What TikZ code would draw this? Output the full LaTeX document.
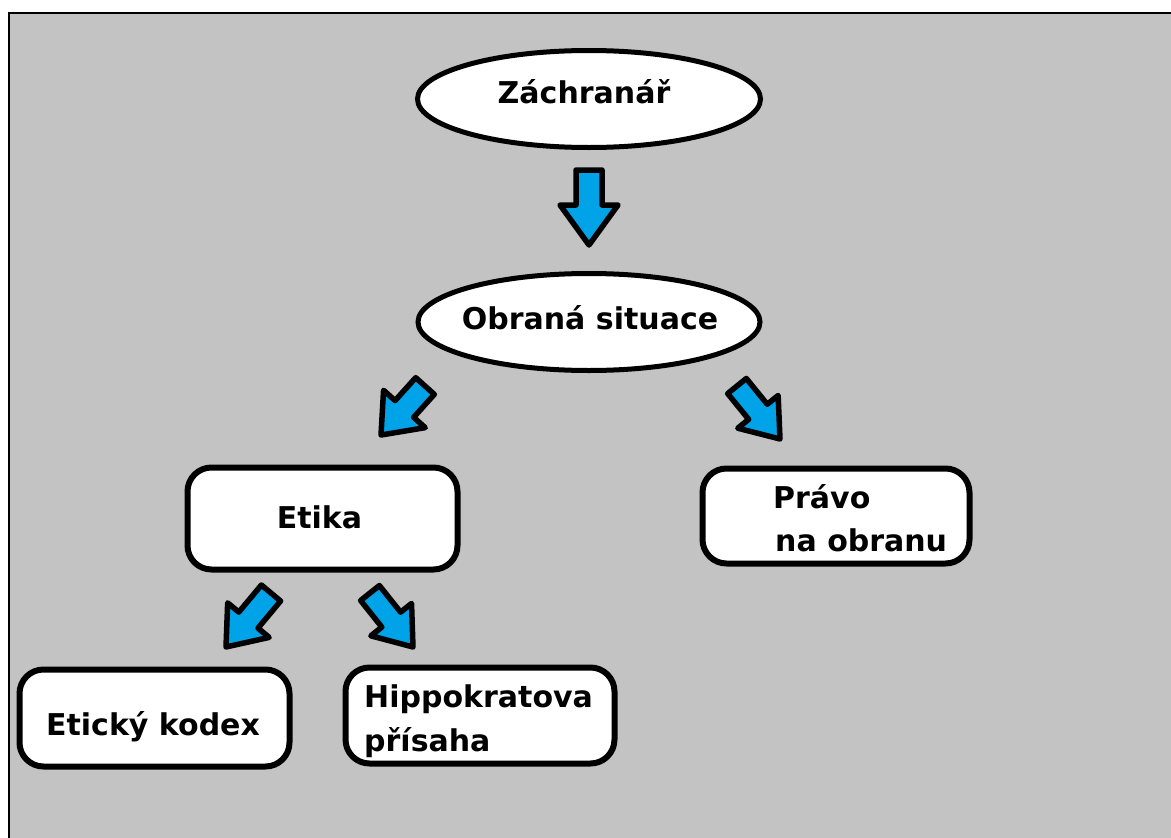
\documentclass[tikz,border=0pt]{standalone}
\usepackage{fontspec}
\setmainfont{DejaVu Sans}
\usetikzlibrary{calc,shapes.geometric}
\definecolor{bggray}{HTML}{C3C3C3}
\definecolor{arrblue}{HTML}{00A2E8}
\newcommand\blockarr[5]{% tail, tip, shaft half width, head half width, head length
  \coordinate (neck) at ($(#2)!#5!(#1)$);
  \draw[barrow] ($(#1)!#3!90:(#2)$) -- ($(neck)!#3!90:(#2)$) -- ($(neck)!#4!90:(#2)$)
    -- (#2) -- ($(neck)!#4!-90:(#2)$) -- ($(neck)!#3!-90:(#2)$) -- ($(#1)!#3!-90:(#2)$) -- cycle;
}
\begin{document}
\begin{tikzpicture}[x=1pt,y=-1pt,
  ell/.style={ellipse,draw=black,fill=white,line width=5pt,inner sep=0pt},
  rbox/.style={rectangle,rounded corners=24pt,draw=black,fill=white,line width=6pt,inner sep=0pt},
  lbl/.style={inner sep=0pt,font=\fontsize{30}{36}\selectfont\bfseries},
  barrow/.style={draw=black,fill=arrblue,line width=5.5pt,line join=round}]
\useasboundingbox (0,0) rectangle (1171,838);
\fill[white] (0,0) rectangle (1171,838);
\fill[bggray] (9,13) rectangle (1171,838);
\draw[line width=2pt] (9,838) -- (9,13) -- (1171,13);

% shapes
\node[ell,minimum width=343pt,minimum height=97pt] (zach) at (589,99) {};
\node[ell,minimum width=342pt,minimum height=97pt] (obr) at (589,322) {};
\node[rbox,minimum width=270pt,minimum height=102pt] (etika) at (322.5,518.5) {};
\node[rbox,minimum width=267pt,minimum height=95pt] (pravo) at (836,516) {};
\node[rbox,minimum width=270pt,minimum height=97pt] (kodex) at (154.5,718) {};
\node[rbox,minimum width=269pt,minimum height=96pt] (hipp) at (480,715.5) {};

% texts
\node[lbl,anchor=base] (tzach) at (584,103) {Záchranář};
\node[lbl,anchor=base] (tobr) at (590,329) {Obraná situace};
\node[lbl,anchor=base] (tetika) at (319.5,528) {Etika};
\node[lbl,anchor=base west] (tpravo1) at (773,508) {Právo};
\node[lbl,anchor=base west] (tpravo2) at (775,551) {na obranu};
\node[lbl,anchor=base] (tkodex) at (153,735) {Etický kodex};
\node[lbl,anchor=base west] (thipp1) at (364,707) {Hippokratova};
\node[lbl,anchor=base west] (thipp2) at (364,751) {přísaha};

% block arrows
\coordinate (a1t) at (589,170); \coordinate (a1p) at (589,245);
\coordinate (a2t) at (425,386); \coordinate (a2p) at (381,435);
\coordinate (a3t) at (737,386); \coordinate (a3p) at (780,439);
\coordinate (a4t) at (271,593); \coordinate (a4p) at (226,647);
\coordinate (a5t) at (370,593); \coordinate (a5p) at (413,647);
\blockarr{a1t}{a1p}{13pt}{29pt}{40pt}
\blockarr{a2t}{a2p}{12.5pt}{28pt}{35pt}
\blockarr{a3t}{a3p}{12pt}{26pt}{35pt}
\blockarr{a4t}{a4p}{12.5pt}{27pt}{35pt}
\blockarr{a5t}{a5p}{12pt}{26pt}{35pt}
\end{tikzpicture}
\end{document}
